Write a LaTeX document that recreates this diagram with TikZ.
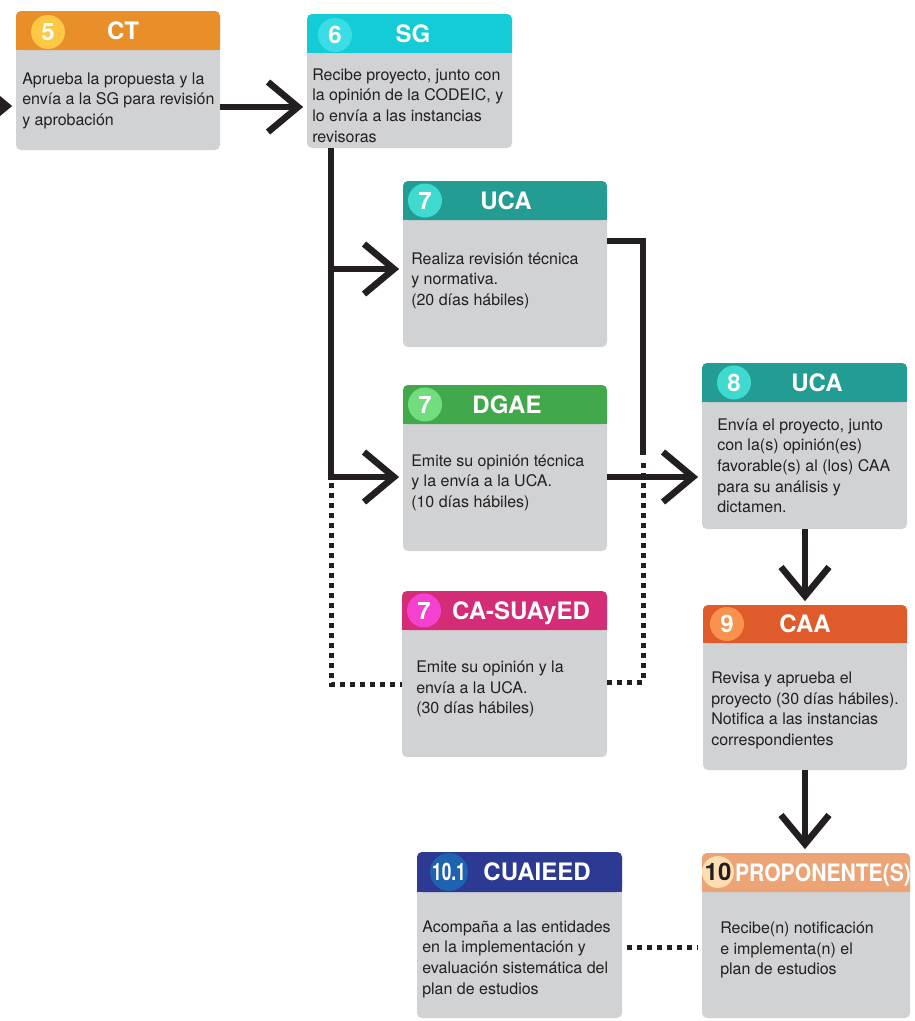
\documentclass[tikz,border=0pt]{standalone}
\usepackage{fontspec}
\setmainfont{TeX Gyre Heros}
\usepackage{graphicx}
\usetikzlibrary{calc,fit}
\definecolor{ink}{HTML}{231F20}
\definecolor{boxgray}{HTML}{D1D2D4}
\definecolor{ctH}{HTML}{E98F2A}\definecolor{ctC}{HTML}{FDC843}
\definecolor{sgH}{HTML}{14CCD7}\definecolor{sgC}{HTML}{3ADDE6}
\definecolor{ucaH}{HTML}{239C93}\definecolor{ucaC}{HTML}{3FD9D0}
\definecolor{dgH}{HTML}{41A84B}\definecolor{dgC}{HTML}{72DD7F}
\definecolor{caH}{HTML}{D42C76}\definecolor{caC}{HTML}{F640CF}
\definecolor{caaH}{HTML}{E05B2C}\definecolor{caaC}{HTML}{F9924E}
\definecolor{cuH}{HTML}{2D3A93}\definecolor{cuC}{HTML}{1D63B0}
\definecolor{prH}{HTML}{ECA476}\definecolor{prC}{HTML}{FEDDB3}
\tikzset{
 conn/.style={draw=ink, line width=4.9pt, line cap=butt, line join=miter},
 chevron/.style={draw=ink, line width=4.9pt, line cap=butt, line join=miter, miter limit=10},
 dotline/.style={draw=ink, line width=3.75pt, dash pattern=on 3.75pt off 3.75pt},
 boxbody/.style={fill=boxgray, rounded corners=3.75pt, inner sep=0pt, outer sep=0pt},
 boxhead/.style={rounded corners=3.75pt, inner sep=0pt, outer sep=0pt},
 numcirc/.style={circle, inner sep=0pt, minimum size=25.5pt, text=white, font=\fontsize{18}{20}\selectfont\bfseries},
 headtext/.style={text=white, font=\fontsize{18}{20}\selectfont\bfseries, inner sep=0pt, anchor=base},
 bodytext/.style={inner sep=0pt, anchor=base west, text=ink},
}
\newcommand\bodypar[1]{\parbox[t]{180pt}{\fontsize{12}{15.5}\selectfont\raggedright #1}}
\newcommand\flowbox[7]{%
 \node[boxbody, fit={(#2,#3) (#4,#6)}] (#1) {};
 \node[boxhead, fill=#7, fit={(#2,#3) (#4,#5)}] (#1-h) {};
 \fill[#7] (#2,#5-8) rectangle (#4,#5);
}
\newcommand\chevR[1]{\draw[chevron] ($(#1)+(-30,-25)$) -- (#1) -- ($(#1)+(-30,25)$);}
\newcommand\chevD[1]{\draw[chevron] ($(#1)+(-24,-29)$) -- (#1) -- ($(#1)+(24,-29)$);}
\begin{document}
\begin{tikzpicture}[x=0.75pt,y=-0.75pt]
\useasboundingbox (0,0) rectangle (914,1021);

% boxes
\flowbox{ct}{16}{11}{220}{50}{150}{ctH}
\flowbox{sg}{307}{14}{512}{53}{148}{sgH}
\flowbox{uca}{403}{181}{607}{220}{347}{ucaH}
\flowbox{dg}{403}{385}{607}{424}{551}{dgH}
\flowbox{ca}{402}{591}{607}{630}{757}{caH}
\flowbox{ucb}{702}{363}{907}{402}{529}{ucaH}
\flowbox{caa}{703}{605}{907}{643}{770}{caaH}
\flowbox{cu}{417}{852}{622}{892}{1018}{cuH}
\flowbox{pr}{702}{853}{910}{892}{1018}{prH}

% number circles
\node[numcirc, fill=ctC] (ct-n) at (48,32) {5};
\node[numcirc, fill=sgC] (sg-n) at (335,35) {6};
\node[numcirc, fill=ucaC] (uca-n) at (425,200.5) {7};
\node[numcirc, fill=dgC] (dg-n) at (425,404.5) {7};
\node[numcirc, fill=caC] (ca-n) at (424,610.5) {7};
\node[numcirc, fill=ucaC] (ucb-n) at (734,382.5) {8};
\node[numcirc, fill=caaC] (caa-n) at (727,624) {9};
\node[numcirc, fill=cuC] (cu-n) at (449,872) {\scalebox{0.72}[1]{10.1}};
\node[numcirc, fill=prC, text=ink, minimum size=22.5pt] (pr-n) at (718,872) {10};

% titles
\node[headtext] (ct-t) at (123,39) {CT};
\node[headtext] (sg-t) at (413,42) {SG};
\node[headtext] (uca-t) at (506,209) {UCA};
\node[headtext] (dg-t) at (507,413) {DGAE};
\node[headtext] (ca-t) at (521,619) {CA-SUAyED};
\node[headtext] (ucb-t) at (817,391) {UCA};
\node[headtext] (caa-t) at (805,632.5) {CAA};
\node[headtext] (cu-t) at (537,880.5) {CUAIEED};
\node[headtext] (pr-t) at (823,881) {\scalebox{0.88}[1]{PROPONENTE(S)}};

% body texts
\node[bodytext] (ct-x) at (22,84) {\bodypar{Aprueba la propuesta y la\\envía a la SG para revisión\\y aprobación}};
\node[bodytext] (sg-x) at (312,80) {\bodypar{Recibe proyecto, junto con\\la opinión de la CODEIC, y\\lo envía a las instancias\\revisoras}};
\node[bodytext] (uca-x) at (411,264) {\bodypar{Realiza revisión técnica\\y normativa.\\(20 días hábiles)}};
\node[bodytext] (dg-x) at (411,466) {\bodypar{Emite su opinión técnica\\y la envía a la UCA.\\(10 días hábiles)}};
\node[bodytext] (ca-x) at (416,672.5) {\bodypar{Emite su opinión y la\\envía a la UCA.\\(30 días hábiles)}};
\node[bodytext] (ucb-x) at (717,430) {\bodypar{Envía el proyecto, junto\\con la(s) opinión(es)\\favorable(s) al (los) CAA\\para su análisis y\\dictamen.}};
\node[bodytext] (caa-x) at (711,683.5) {\bodypar{Revisa y aprueba el\\proyecto (30 días hábiles).\\Notifica a las instancias\\correspondientes}};
\node[bodytext] (cu-x) at (422,932) {\bodypar{Acompaña a las entidades\\en la implementación y\\evaluación sistemática del\\plan de estudios}};
\node[bodytext] (pr-x) at (720,933.5) {\bodypar{Recibe(n) notificación\\e implementa(n) el\\plan de estudios}};

% connectors
\coordinate (in0) at (-60,106);
\coordinate (t0) at ($(ct.west |- in0)+(-9,0)$);
\draw[conn] (in0) -- (t0); \chevR{t0}

\coordinate (t1) at ($(sg.west |- 0,107)+(-9,0)$);
\draw[conn] (ct.east |- 0,107) -- (t1); \chevR{t1}

\coordinate (j0) at (sg.south -| 331,0);
\coordinate (j1) at (331,269);
\coordinate (j2) at (331,477);
\coordinate (j3) at (331,684);
\coordinate (t2) at ($(uca.west |- j1)+(-9,0)$);
\coordinate (t3) at ($(dg.west |- j2)+(-9,0)$);
\draw[conn] (j0) -- (j2) -- (t3); \chevR{t3}
\draw[conn] (j1) -- (t2); \chevR{t2}
\draw[dotline] (331,483) -- (j3) -- (ca.west |- j3);

\coordinate (r0) at (643,241);
\draw[conn] (uca.east |- r0) -- (r0) -- (643,455);
\coordinate (r1) at (643,682);
\draw[dotline] (ca.east |- r1) -- (r1) -- (643,459);

\coordinate (t4) at ($(ucb.west |- 0,477)+(-9,0)$);
\draw[conn] (dg.east |- 0,477) -- (t4); \chevR{t4}

\coordinate (t5) at ($(caa.north -| 805,0)+(0,-9)$);
\draw[conn] (ucb.south -| 805,0) -- (t5); \chevD{t5}

\coordinate (t6) at ($(pr.north -| 805,0)+(0,-9)$);
\draw[conn] (caa.south -| 805,0) -- (t6); \chevD{t6}

\draw[dotline] ($(cu.east |- 0,947)+(5,0)$) -- ($(pr.west |- 0,947)+(-4,0)$);
\end{tikzpicture}
\end{document}
